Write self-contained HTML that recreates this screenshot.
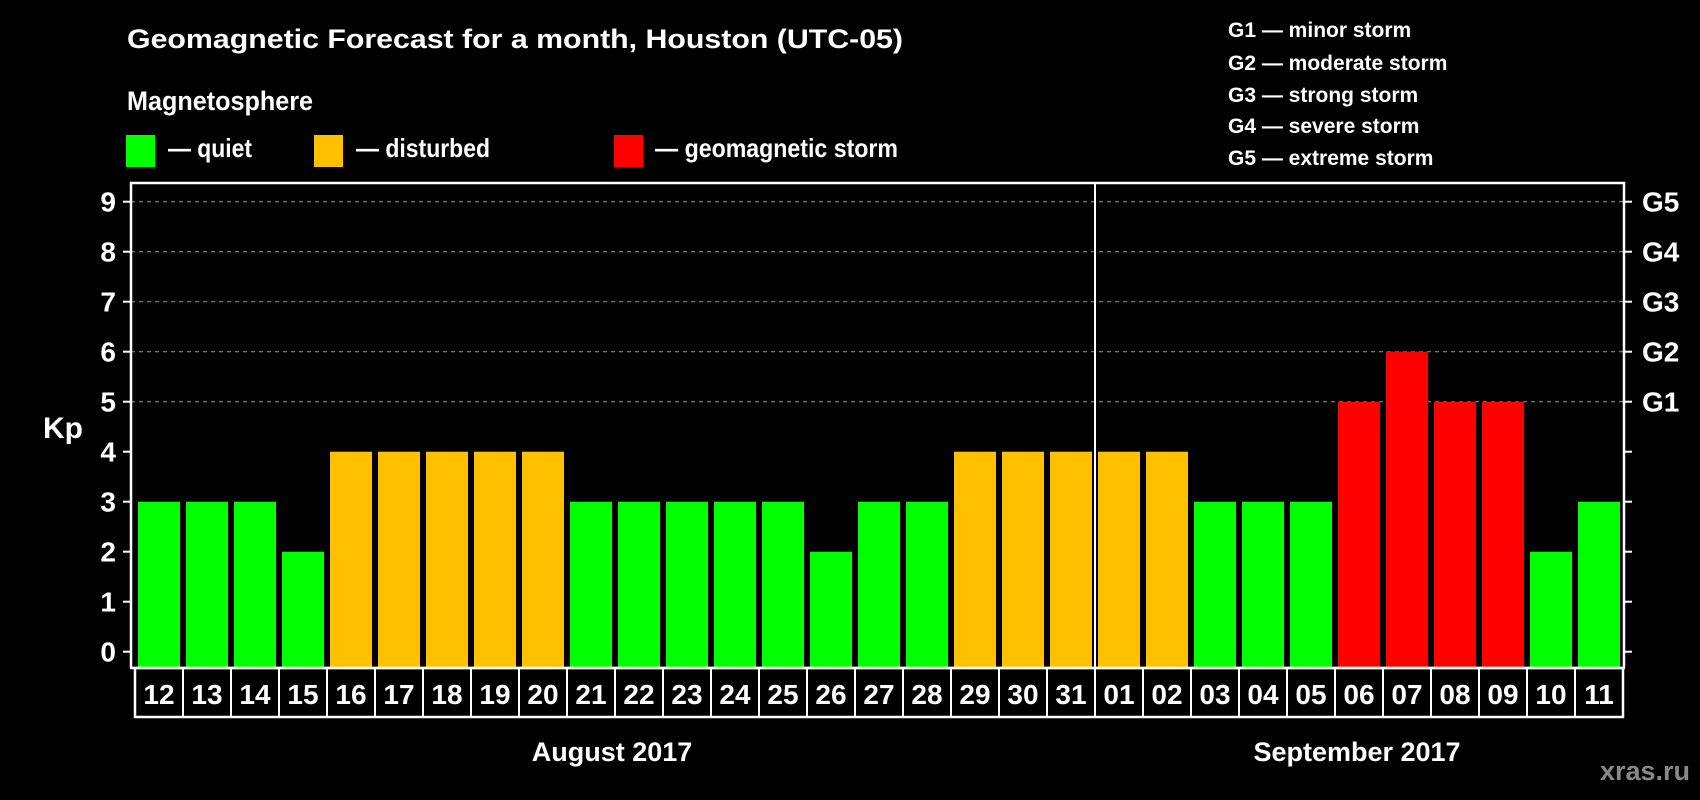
<!DOCTYPE html>
<html><head><meta charset="utf-8"><style>
html,body{margin:0;padding:0;background:#000;}
svg{display:block;font-family:"Liberation Sans",Arial,sans-serif;font-weight:bold;}
</style></head><body>
<svg id="chart" width="1700" height="800" viewBox="0 0 1700 800" xmlns="http://www.w3.org/2000/svg">
<rect x="0" y="0" width="1700" height="800" fill="#000"/>
<text x="127" y="48" font-size="27" fill="#fff" textLength="776" lengthAdjust="spacingAndGlyphs">Geomagnetic Forecast for a month, Houston (UTC-05)</text>
<text x="127" y="110" font-size="27" fill="#fff" textLength="186" lengthAdjust="spacingAndGlyphs">Magnetosphere</text>
<g>
<rect x="126" y="135" width="29" height="32" fill="#00ff00"/>
<text x="168" y="157" font-size="26" fill="#fff" textLength="84" lengthAdjust="spacingAndGlyphs">— quiet</text></g>
<g>
<rect x="314" y="135" width="29" height="32" fill="#ffc000"/>
<text x="356" y="157" font-size="26" fill="#fff" textLength="134" lengthAdjust="spacingAndGlyphs">— disturbed</text></g>
<g>
<rect x="614" y="135" width="29" height="32" fill="#ff0000"/>
<text x="655" y="157" font-size="26" fill="#fff" textLength="243" lengthAdjust="spacingAndGlyphs">— geomagnetic storm</text></g>
<g font-size="21" fill="#fff">
<text x="1228" y="37">G1 — minor storm</text>
<text x="1228" y="70">G2 — moderate storm</text>
<text x="1228" y="102">G3 — strong storm</text>
<text x="1228" y="133">G4 — severe storm</text>
<text x="1228" y="165">G5 — extreme storm</text>
</g>
<text x="43" y="438" font-size="30" fill="#fff">Kp</text>
<g id="grid"></g><g id="bars"></g><g id="axes"></g>
<text x="612" y="761" font-size="27" fill="#fff" text-anchor="middle">August 2017</text>
<text x="1357" y="761" font-size="27" fill="#fff" text-anchor="middle">September 2017</text>
<text x="1690" y="780" font-size="27" fill="#888" text-anchor="end">xras.ru</text>
</svg>
<script>
const days = ["12","13","14","15","16","17","18","19","20","21","22","23","24","25","26","27","28","29","30","31","01","02","03","04","05","06","07","08","09","10","11"];
const kpValues = [3,3,3,2,4,4,4,4,4,3,3,3,3,3,2,3,3,4,4,4,4,4,3,3,3,5,6,5,5,2,3];
const yTicks = [0,1,2,3,4,5,6,7,8,9];
const gLabels = ["G1","G2","G3","G4","G5"];
const gLevels = [5,6,7,8,9];
const monthBreakIndex = 20;

const NS = "http://www.w3.org/2000/svg";
const L = 131, R = 1624, T = 183, B = 668, X0 = 135, P = 48;
function y(v){ return 651.7 - v*50; }
function x(i){ return X0 + i*P; }
function mk(tag, attrs, parent){ const e=document.createElementNS(NS,tag); for(const k in attrs) e.setAttribute(k,attrs[k]); parent.appendChild(e); return e; }
function color(v){ return v>=5 ? "#ff0000" : (v>=4 ? "#ffc000" : "#00ff00"); }
const grid=document.getElementById("grid"), bars=document.getElementById("bars"), axes=document.getElementById("axes");

yTicks.forEach(v=>{
  if(v>=5){
    const gl=mk("line",{x1:L,x2:R,y1:y(v),y2:y(v),stroke:"#999","stroke-width":1,"stroke-dasharray":"4,4"},grid);
    
    
  }
  const t1=mk("line",{x1:L-8,x2:L,y1:y(v),y2:y(v),stroke:"#fff","stroke-width":2},axes);
  
  
  const t2=mk("line",{x1:R,x2:R+8,y1:y(v),y2:y(v),stroke:"#fff","stroke-width":2},axes);
  
  
  const lb=mk("text",{x:116,y:y(v)+10,"font-size":28,fill:"#fff","text-anchor":"end"},axes);
  lb.textContent=v;
  
  
});
gLabels.forEach((g,i)=>{
  const t=mk("text",{x:1642,y:y(gLevels[i])+10,"font-size":28,fill:"#fff"},axes);
  t.textContent=g;
  
  
});
kpValues.forEach((v,i)=>{
  const r=mk("rect",{x:x(i)+3,y:y(v),width:42,height:B-y(v),fill:color(v)},bars);
  
  
});
const fr=mk("path",{d:`M${L},${B} V${T} H${R} V${B}`,fill:"none",stroke:"#fff","stroke-width":2.5},axes);


const dv=mk("line",{x1:x(monthBreakIndex),x2:x(monthBreakIndex),y1:T,y2:B,stroke:"#fff","stroke-width":2},axes);


const ax=mk("line",{x1:L-1,x2:R+1,y1:B,y2:B,stroke:"#fff","stroke-width":2.5},axes);


const nb=mk("rect",{x:X0,y:B,width:days.length*P,height:49,fill:"none",stroke:"#fff","stroke-width":2.5},axes);


days.forEach((d,i)=>{
  if(i>0){
    const s=mk("line",{x1:x(i),x2:x(i),y1:B,y2:B+49,stroke:"#fff","stroke-width":2},axes);
    
    
  }
  const t=mk("text",{x:x(i)+P/2,y:B+36,"font-size":28,fill:"#fff","text-anchor":"middle"},axes);
  t.textContent=d;
  
  
});
</script>
</body></html>
